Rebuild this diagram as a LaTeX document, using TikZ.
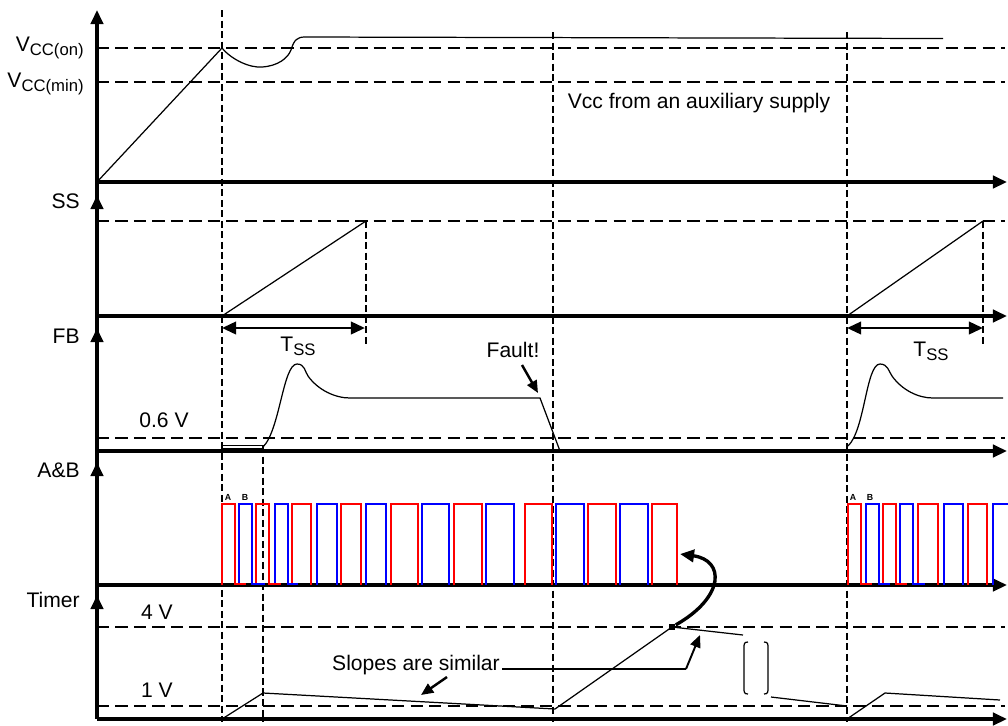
\documentclass[tikz,border=0pt]{standalone}
\usepackage{fontspec}
\setmainfont{Liberation Sans}
\usetikzlibrary{arrows.meta}

\tikzset{
  axis/.style={line width=1.9pt, -{Triangle[length=8pt,width=7pt]}},
  level/.style={line width=1.3pt, dash pattern=on 7pt off 3.5pt},
  marker/.style={line width=1.3pt, dash pattern=on 4pt off 2pt},
  wave/.style={line width=0.7pt},
  pointer/.style={line width=1.4pt, -{Triangle[length=7pt,width=6pt]}},
  lbl/.style={font=\fontsize{12}{14}\selectfont, inner sep=0pt},
  tiny/.style={font=\fontsize{5}{6}\selectfont\bfseries, inner sep=0pt},
  pulseA/.style={red, line width=1.2pt},
  pulseB/.style={blue, line width=1.2pt},
}

\begin{document}
\begin{tikzpicture}[x=0.02cm, y=-0.02cm]
    \useasboundingbox (0,0) rectangle (1008,725);
    % Niveaux de reference
    \draw[level] (97,48) -- (1005,48);
    \draw[level] (97,82) -- (1005,82);
    \draw[level] (97,221) -- (1005,221);
    \draw[level] (97,438) -- (1005,438);
    \draw[level] (97,627) -- (1005,627);
    \draw[level] (97,706) -- (1005,706);
    % Reperes verticaux
    \draw[marker] (222,10) -- (222,722);
    \draw[marker] (553,32) -- (553,722);
    \draw[marker] (847,32) -- (847,722);
    \draw[marker] (263,446) -- (263,722);
    \draw[marker] (366,221) -- (366,347);
    \draw[marker] (983,221) -- (983,347);
    % Axes
    \draw[axis] (97,719) -- (97,10);
    \foreach \y in {195,328,462,595}
        \draw[axis] (97,\y+20) -- (97,\y);
    \foreach \y in {182,316,451,585,719}
        \draw[axis] (97,\y) -- (1007,\y);
    % Noms des signaux
    \node[lbl, anchor=east] (vccon) at (84,48) {V\raisebox{-0.35ex}{\fontsize{9.5}{10}\selectfont CC(on)}};
    \node[lbl, anchor=east] (vccmin) at (84,84) {V\raisebox{-0.35ex}{\fontsize{9.5}{10}\selectfont CC(min)}};
    \node[lbl, anchor=east] (ss) at (80,201) {SS};
    \node[lbl, anchor=east] (fb) at (80,336) {FB};
    \node[lbl, anchor=east] (ab) at (80,470) {A\&B};
    \node[lbl, anchor=east] (timer) at (80,600) {Timer};
    \node[lbl] (fbref) at (164,420) {0.6 V};
    \node[lbl] (tmax) at (157,612) {4 V};
    \node[lbl] (tmin) at (157,690) {1 V};
    \node[lbl] (aux) at (699,103) {Vcc from an auxiliary supply};
    % Vcc
    \draw[wave] (97,182) -- (222,48)
        .. controls (232,60) and (250,68) .. (262,67)
        .. controls (278,66) and (288,58) .. (291,50)
        .. controls (294,40) and (297,37) .. (305,37) -- (943,38.5);
    % SS
    \draw[wave] (222,316) -- (366,221);
    \draw[wave] (847,316) -- (983,221);
    \draw[line width=1.6pt, {Triangle[length=8pt,width=7pt]}-{Triangle[length=8pt,width=7pt]}] (222,328) -- (365,328);
    \draw[line width=1.6pt, {Triangle[length=8pt,width=7pt]}-{Triangle[length=8pt,width=7pt]}] (847,328) -- (983,328);
    \node[lbl] (tss1) at (298,346) {T\raisebox{-0.35ex}{\fontsize{9.5}{10}\selectfont SS}};
    \node[lbl] (tss2) at (931,351) {T\raisebox{-0.35ex}{\fontsize{9.5}{10}\selectfont SS}};
    % FB
    \draw[wave] (222,445.5) rectangle (263,448.5);
    \draw[wave] (263,447) .. controls (280,430) and (283,364) .. (297,364)
        .. controls (305,364) and (305,372) .. (308,376)
        .. controls (318,390) and (335,398) .. (350,398) -- (540,398) -- (560,451);
    \draw[wave] (848,446) .. controls (865,430) and (866,364) .. (880,364)
        .. controls (888,364) and (889,372) .. (892,376)
        .. controls (902,390) and (918,398) .. (933,398) -- (1003,398);
    \node[lbl] (fault) at (513,350) {Fault!};
    \coordinate (faultTail) at (522,365);
    \coordinate (faultTip) at (538,393);
    \draw[pointer] (faultTail) -- (faultTip);
    % A&B
    \foreach \a/\b in {222/235,256/269,292/311,341/361,391/418,454/482,525/552,588/616,652/677,848/861,883/896,918/938,968/987}
        \draw[pulseA] (\a,585) -- (\a,504) -- (\b,504) -- (\b,585);
    \foreach \a/\b in {239/252,275/288,317/337,366/386,422/449,486/514,556/584,620/648,866/879,900/913,944/963}
        \draw[pulseB] (\a,585) -- (\a,504) -- (\b,504) -- (\b,585);
    \draw[pulseB] (993,585) -- (993,504) -- (1008,504);
    \foreach \a/\b in {235/246,269/281,861/872,896/907}
        \draw[pulseA] (\a,584) -- (\b,584);
    \foreach \a/\b in {252/265,288/298,879/890,913/925}
        \draw[pulseB] (\a,584) -- (\b,584);
    \node[tiny] (a1) at (228,497) {A};
    \node[tiny] (b1) at (245,497) {B};
    \node[tiny] (a2) at (853,497) {A};
    \node[tiny] (b2) at (870,497) {B};
    % Timer
    \draw[wave] (222,719) -- (263,693) -- (555,709) -- (672,627) -- (743,635);
    \draw[wave] (771,697) -- (847,706);
    \draw[wave] (847,719) -- (885,693) -- (1000,700);
    \draw[wave] (748,642) .. controls (744,642) and (744,644) .. (744,648) -- (744,688)
        .. controls (744,692) and (744,694) .. (748,694);
    \draw[wave] (764,642) .. controls (768,642) and (768,644) .. (768,648) -- (768,688)
        .. controls (768,692) and (768,694) .. (764,694);
    \node[fill, inner sep=0pt, minimum size=3.8pt] (knee) at (672,627) {};
    \coordinate (lastPulse) at (680,554);
    \draw[line width=1.9pt, -{Triangle[length=8pt,width=7pt]}] (knee) .. controls (725,597) and (725,560) .. (lastPulse);
    \node[lbl] (slopes) at (416,665) {Slopes are similar};
    \coordinate (bend) at (686,669);
    \coordinate (slopeTip) at (700,635);
    \draw[line width=1pt] (slopes.east) ++(2,4) -- (bend);
    \draw[pointer, line width=1.1pt] (bend) -- (slopeTip);
    \coordinate (slopeTail) at (447,677);
    \coordinate (slopeTip2) at (421,695);
    \draw[pointer] (slopeTail) -- (slopeTip2);
\end{tikzpicture}
\end{document}
